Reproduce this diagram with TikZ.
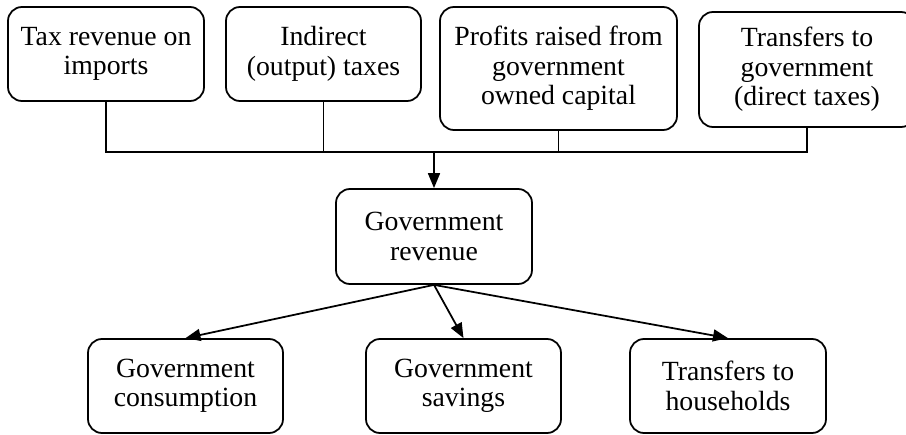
\documentclass[tikz,border=0pt]{standalone}
\usepackage{fontspec}
\setmainfont{Liberation Serif}
\usetikzlibrary{arrows.meta}

\tikzset{
  box/.style={draw, rounded corners=0.28cm, line width=1pt, align=center,
    inner sep=0pt, font=\fontsize{15.8}{16.8}\selectfont},
  link/.style={line width=1pt},
  arr/.style={line width=1pt, -{Triangle[length=3mm,width=2.4mm]}}
}

\begin{document}
\begin{tikzpicture}
\clip (0,0) rectangle (18.12,8.68);

\node[box, minimum width=3.92cm, minimum height=1.88cm] (imports) at (2.12,7.6) {Tax revenue on\\imports};
\node[box, minimum width=3.9cm, minimum height=1.88cm] (indirect) at (6.47,7.6) {Indirect\\(output) taxes};
\node[box, minimum width=4.74cm, minimum height=2.46cm] (capital) at (11.17,7.31) {Profits raised from\\government\\owned capital};
\node[box, minimum width=4.32cm, minimum height=2.3cm] (transfers) at (16.14,7.29) {Transfers to\\government\\(direct taxes)};

\node[box, minimum width=3.92cm, minimum height=1.9cm] (revenue) at (8.68,3.95) {Government\\revenue};

\node[box, minimum width=3.9cm, minimum height=1.88cm] (consumption) at (3.71,0.96) {Government\\consumption};
\node[box, minimum width=3.9cm, minimum height=1.88cm] (savings) at (9.27,0.96) {Government\\savings};
\node[box, minimum width=3.92cm, minimum height=1.88cm] (households) at (14.56,0.96) {Transfers to\\households};

\coordinate (bus) at (8.68,5.64);
\draw[link] (imports.south) |- (transfers.south |- bus) -- (transfers.south);
\draw[link] (indirect.south) -- (indirect.south |- bus);
\draw[link] (capital.south) -- (capital.south |- bus);
\draw[arr] (bus) -- (revenue.north);

\draw[arr] (revenue.south) -- (consumption.north);
\draw[arr] (revenue.south) -- (savings.north);
\draw[arr] (revenue.south) -- (households.north);
\end{tikzpicture}
\end{document}
